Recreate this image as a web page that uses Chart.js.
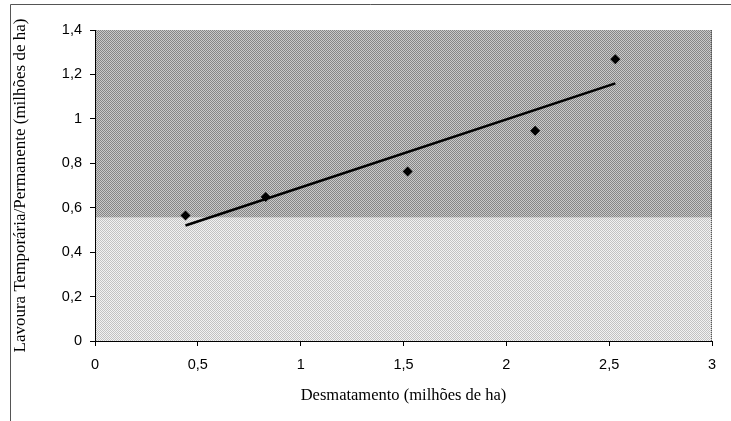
<!DOCTYPE html>
<html>
<head>
<meta charset="utf-8">
<script src="https://cdn.jsdelivr.net/npm/chart.js@4/dist/chart.umd.min.js"></script>
<style>
  body { margin: 0; background: #fff; }
  #wrap { width: 731px; height: 421px; }
</style>
</head>
<body>
<div id="wrap"><canvas id="myChart" width="731" height="421"></canvas></div>
<script>
// valores
var desmatamento = [0.44, 0.83, 1.52, 2.14, 2.53];
var lavoura = [0.565, 0.648, 0.763, 0.947, 1.268];
// linha de tendência (extremos)
var trendX = [0.44, 2.53];
var trendY = [0.52, 1.16];
var xTicks = [0, 0.5, 1, 1.5, 2, 2.5, 3];
var yTicks = [0, 0.2, 0.4, 0.6, 0.8, 1, 1.2, 1.4];
var bandSplit = 0.555; // onde o fundo muda de tom

function fmt(v) {
  return (Math.round(v * 10) / 10).toString().replace('.', ',');
}

function checker(a, b) {
  var c = document.createElement('canvas');
  c.width = 2; c.height = 2;
  var g = c.getContext('2d');
  g.fillStyle = a; g.fillRect(0, 0, 2, 2);
  g.fillStyle = b; g.fillRect(0, 0, 1, 1); g.fillRect(1, 1, 1, 1);
  return g.createPattern(c, 'repeat');
}

var bgPlugin = {
  id: 'bgPlugin',
  beforeDraw: function(chart) {
    var ctx = chart.ctx, a = chart.chartArea;
    var ySplit = chart.scales.y.getPixelForValue(bandSplit);
    ctx.save();
    // moldura externa
    ctx.strokeStyle = '#555';
    ctx.lineWidth = 1;
    ctx.beginPath();
    ctx.moveTo(10.5, 421); ctx.lineTo(10.5, 4.5); ctx.lineTo(731, 4.5);
    ctx.stroke();
    ctx.fillStyle = checker('#c9c9c9', '#858585');
    ctx.fillRect(a.left, a.top, a.right - a.left, ySplit - a.top);
    ctx.fillStyle = checker('#f2f2f2', '#c2c2c2');
    ctx.fillRect(a.left, ySplit, a.right - a.left, a.bottom - ySplit);
    // borda direita pontilhada
    ctx.strokeStyle = '#555';
    ctx.setLineDash([1, 1]);
    ctx.beginPath();
    ctx.moveTo(a.right - 0.5, a.top); ctx.lineTo(a.right - 0.5, a.bottom);
    ctx.stroke();
    ctx.restore();
  }
};

var pts = desmatamento.map(function(x, i) { return { x: x, y: lavoura[i] }; });
var trend = trendX.map(function(x, i) { return { x: x, y: trendY[i] }; });

var myChart = new Chart(
  document.getElementById('myChart'),
  {
    type: 'scatter',
    data: {
      datasets: [{
        label: 'Dados',
        data: pts,
        pointStyle: 'rectRot',
        pointRadius: 5,
        backgroundColor: '#000',
        borderColor: '#000',
        borderWidth: 0
      }, {
        label: 'Tendência',
        type: 'line',
        data: trend,
        borderColor: '#000',
        borderWidth: 2.5,
        pointRadius: 0,
        fill: false
      }]
    },
    options: {
      responsive: false,
      animation: false,
      layout: { padding: { left: 0, top: 30, right: 19, bottom: 0 } },
      plugins: {
        legend: { display: false },
        tooltip: { enabled: false }
      },
      scales: {
        x: {
          type: 'linear',
          min: 0, max: 3,
          afterFit: function(s) { s.height = 80; },
          afterBuildTicks: function(s) { s.ticks = xTicks.map(function(v) { return { value: v }; }); },
          ticks: {
            callback: fmt,
            color: '#000',
            padding: 10,
            maxRotation: 0,
            font: { family: 'Liberation Sans', size: 14.5 }
          },
          grid: { drawOnChartArea: false, drawTicks: true, tickLength: 5, color: '#000' },
          border: { color: '#000', width: 1 },
          title: {
            display: true,
            text: 'Desmatamento (milhões de ha)',
            color: '#000',
            font: { family: 'Liberation Serif', size: 16.5 },
            padding: { bottom: 15 }
          }
        },
        y: {
          type: 'linear',
          min: 0, max: 1.4,
          afterFit: function(s) { s.width = 95; },
          afterBuildTicks: function(s) { s.ticks = yTicks.map(function(v) { return { value: v }; }); },
          ticks: {
            callback: fmt,
            color: '#000',
            padding: 8,
            font: { family: 'Liberation Sans', size: 14.5 }
          },
          grid: { drawOnChartArea: false, drawTicks: true, tickLength: 5, color: '#000' },
          border: { color: '#000', width: 1 },
          title: {
            display: true,
            text: 'Lavoura Temporária/Permanente (milhões de ha)',
            color: '#000',
            font: { family: 'Liberation Serif', size: 17 },
            padding: { top: 10 }
          }
        }
      }
    },
    plugins: [bgPlugin]
  }
);
</script>
</body>
</html>
